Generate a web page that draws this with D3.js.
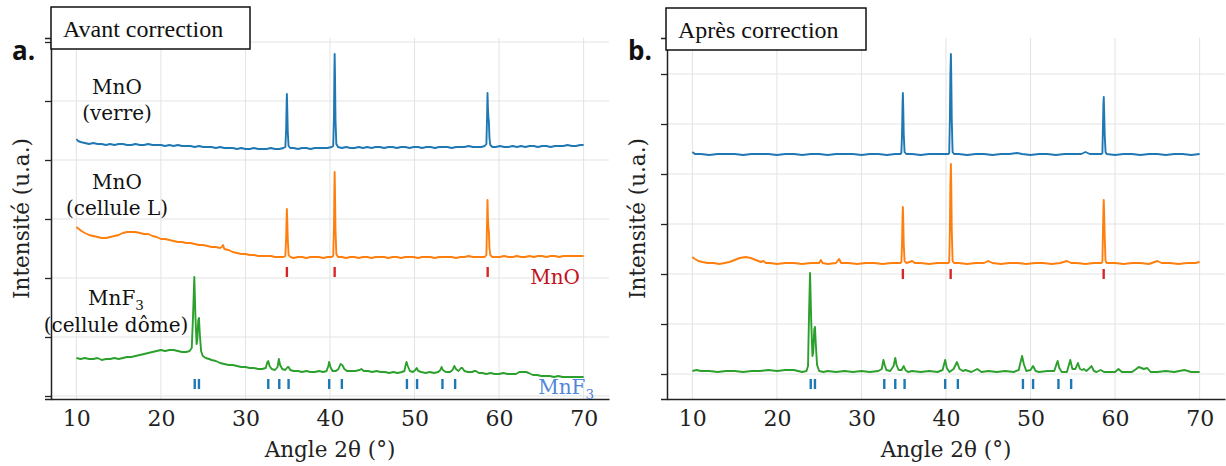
<!DOCTYPE html>
<html><head><meta charset="utf-8">
<script src="https://cdn.jsdelivr.net/npm/d3@7"></script>
<style>body{margin:0;background:#fff} svg{display:block}</style>
</head><body><svg id="c" width="1226" height="466"></svg>
<script>
// ---------------- DATA ----------------
const xTicks = [10, 20, 30, 40, 50, 60, 70];
const avantYTicks = [0, 59, 118, 177, 236, 295, 354];
const apresYTicks = [0, 50, 100, 150, 200, 250, 300];
const mnoRef = [34.9, 40.55, 58.65];
const mnf3Ref = [24.0, 24.5, 32.7, 34.0, 35.1, 39.9, 41.4, 49.1, 50.3, 53.3, 54.8];
const sampleNames = [["MnO", "(verre)"], ["MnO", "(cellule L)"], ["MnF", "(cellule dôme)"]];
const panelTitles = ["Avant correction", "Après correction"];
const panelLetters = ["a.", "b."];

const avantVerre = [
[10.0,257],[10.2,255],[10.5,254],[11.0,253],[11.5,252],[12.0,253],[12.5,252],[13.0,252],[13.5,251],[14.0,252],[14.5,251],[15.0,252],[15.5,252],[16.0,251],[16.5,251],[17.0,252],[17.5,251],[18.0,251],[18.5,252],[19.0,251],[19.5,251],[20.0,251],[20.5,250],[21.0,251],[21.5,250],[22.0,251],[22.5,250],[23.0,250],[23.5,250],[24.0,249],[24.5,250],[25.0,249],[25.5,249],[26.0,249],[26.5,248],[27.0,249],[27.5,248],[28.0,248],[28.5,248],[29.0,247],[29.5,248],[30.0,247],[30.5,247],[31.0,248],[31.5,247],[32.0,247],[32.5,247],[33.0,248],[33.5,247],[34.0,247],[34.5,248],
[34.72,249],[34.82,268],[34.87,292],[34.9,302],[34.94,290],[35.0,265],[35.1,250],[35.3,248],
[35.7,248],[36.2,247],[36.7,248],[37.2,248],[37.7,247],[38.2,248],[38.7,248],[39.2,248],[39.7,248],[40.2,249],
[40.38,250],[40.47,280],[40.52,325],[40.55,342],[40.59,322],[40.65,276],[40.75,252],[40.95,249],
[41.4,248],[41.9,249],[42.4,248],[42.9,248],[43.4,249],[43.9,248],[44.4,249],[44.9,248],[45.4,249],[45.9,249],[46.4,248],[46.9,249],[47.4,249],[47.9,248],[48.4,249],[48.9,249],[49.4,248],[49.9,249],[50.4,249],[50.9,248],[51.4,249],[51.9,249],[52.4,248],[52.9,249],[53.4,249],[53.9,249],[54.4,248],[54.9,249],[55.4,249],[55.9,249],[56.4,250],[56.9,249],[57.4,249],[57.9,249],[58.3,250],
[58.5,252],[58.58,280],[58.63,303],[58.68,288],[58.73,279],[58.79,275],[58.86,258],[58.96,251],[59.2,249],
[59.6,249],[60.1,250],[60.6,249],[61.1,249],[61.6,250],[62.1,249],[62.6,250],[63.1,249],[63.6,250],[64.1,250],[64.6,249],[65.1,250],[65.6,250],[66.1,249],[66.6,250],[67.1,250],[67.6,250],[68.1,251],[68.6,250],[69.1,250],[69.6,251],[70.0,251]];

const avantCelluleL = [
[10.0,169],[10.3,167],[10.6,165],[11.0,163],[11.5,161],[12.0,160],[12.5,159],[13.0,158],[13.5,158],[14.0,159],[14.5,160],[15.0,161],[15.5,163],[16.0,164],[16.5,164],[17.0,164],[17.5,163],[18.0,162],[18.5,162],[19.0,160],[19.5,159],[20.0,157],[20.5,157],[21.0,156],[21.5,155],[22.0,154],[22.5,154],[23.0,153],[23.5,153],[24.0,152],[24.5,151],[25.0,151],[25.5,150],[26.0,149],[26.5,149],[27.0,148],[27.2,149],[27.35,151],[27.5,147],[28.0,146],[28.5,144],[29.0,143],[29.5,142],[30.0,142],[30.5,141],[31.0,141],[31.5,140],[32.0,140],[32.5,140],[33.0,140],[33.5,139],[34.0,139],[34.5,139],
[34.72,140],[34.82,160],[34.87,178],[34.9,187],[34.94,177],[35.0,158],[35.1,141],[35.3,139],
[35.7,138],[36.2,139],[36.7,139],[37.2,138],[37.7,139],[38.2,139],[38.7,139],[39.2,138],[39.7,139],[40.2,139],
[40.38,140],[40.47,170],[40.52,208],[40.55,224],[40.59,205],[40.65,166],[40.75,142],[40.95,139],
[41.4,139],[41.9,138],[42.4,139],[42.9,139],[43.4,138],[43.9,139],[44.4,139],[44.9,138],[45.4,139],[45.9,139],[46.4,139],[46.9,138],[47.4,139],[47.9,139],[48.4,138],[48.9,139],[49.4,139],[49.9,139],[50.4,138],[50.9,139],[51.4,139],[51.9,139],[52.4,138],[52.9,139],[53.4,139],[53.9,139],[54.4,139],[54.9,138],[55.4,139],[55.9,139],[56.4,140],[56.9,139],[57.4,139],[57.9,139],[58.3,139],
[58.5,141],[58.58,175],[58.63,196],[58.68,178],[58.73,169],[58.79,165],[58.86,148],[58.96,141],[59.2,139],
[59.6,139],[60.1,139],[60.6,140],[61.1,139],[61.6,139],[62.1,140],[62.6,139],[63.1,139],[63.6,140],[64.1,139],[64.6,140],[65.1,140],[65.6,139],[66.1,140],[66.6,140],[67.1,139],[67.6,140],[68.1,140],[68.6,140],[69.1,140],[69.6,140],[70.0,140]];

const avantDome = [
[10.0,38],[10.5,37],[11.0,38],[11.5,37],[12.0,37],[12.5,38],[13.0,36],[13.5,37],[14.0,37],[14.5,38],[15.0,37],[15.5,38],[16.0,39],[16.5,39],[17.0,40],[17.5,41],[18.0,42],[18.5,43],[19.0,44],[19.5,45],[20.0,46],[20.5,45],[21.0,46],[21.5,46],[22.0,45],[22.5,44],[23.0,44],[23.4,45],[23.65,48],[23.8,80],[23.95,119],[24.08,80],[24.22,52],[24.3,56],[24.42,76],[24.5,78],[24.6,62],[24.75,45],[24.95,40],[25.3,38],[25.7,37],[26.0,36],[26.5,35],[27.0,33],[27.5,32],[28.0,31],[28.5,31],[29.0,30],[29.5,29],[30.0,29],[30.5,28],[31.0,28],[31.5,27],[32.0,27],[32.4,28],[32.6,34],[32.7,35],[32.85,30],[33.1,27],[33.5,26],[33.8,29],[33.95,37],[34.1,31],[34.35,27],[34.7,26],[35.0,29],[35.1,29],[35.3,26],[35.7,25],[36.2,25],[36.7,24],[37.2,25],[37.7,24],[38.2,24],[38.7,25],[39.2,24],[39.6,25],[39.8,30],[39.9,34],[40.05,29],[40.3,25],[40.7,25],[41.0,27],[41.25,32],[41.45,31],[41.7,27],[42.0,25],[42.5,25],[43.0,25],[43.5,26],[43.7,27],[44.0,25],[44.5,25],[45.0,24],[45.5,25],[46.0,24],[46.5,24],[47.0,23],[47.5,24],[48.0,23],[48.5,24],[48.8,25],[48.95,31],[49.05,34],[49.2,30],[49.45,25],[49.8,24],[50.1,26],[50.25,28],[50.45,25],[50.8,24],[51.3,23],[51.8,24],[52.3,23],[52.8,24],[53.05,26],[53.2,29],[53.35,26],[53.7,24],[54.2,24],[54.5,26],[54.7,30],[54.9,27],[55.2,25],[55.5,28],[55.65,28],[55.9,25],[56.3,24],[56.8,24],[57.1,25],[57.25,25],[57.6,23],[58.0,23],[58.5,22],[59.0,23],[59.5,22],[60.0,22],[60.5,23],[61.0,22],[61.5,22],[62.0,22],[62.4,24],[62.8,24],[63.2,24],[63.5,23],[64.0,21],[64.5,21],[65.0,20],[65.5,20],[66.0,20],[66.5,19],[67.0,20],[67.5,19],[68.0,19],[68.5,19],[69.0,19],[69.5,19],[70.0,19]];

const apresVerre = [
[10.0,222],[10.3,220],[11,220],[12,219],[13,220],[14,220],[15,220],[16,219],[17,220],[18,220],[19,220],[20,219],[21,220],[22,220],[23,219],[24,220],[25,220],[26,219],[27,220],[28,220],[29,220],[30,219],[31,220],[32,220],[33,219],[34,220],[34.6,220],
[34.72,221],[34.8,240],[34.86,270],[34.9,281],[34.94,268],[35.0,240],[35.1,222],[35.3,220],
[36,220],[37,219],[38,220],[39,220],[40,220],[40.3,220],
[40.38,221],[40.46,255],[40.52,300],[40.58,320],[40.62,300],[40.68,255],[40.78,222],[40.95,220],
[41.5,220],[42.5,219],[43.5,220],[44.5,220],[45.5,219],[46.5,220],[47.5,220],[48.4,221],[49,220],[50,219],[51,220],[52,220],[53,219],[54,220],[55,220],[56,220],[56.5,222],[57,220],[58,220],[58.4,220],
[58.5,221],[58.56,245],[58.62,270],[58.66,277],[58.7,265],[58.77,240],[58.87,222],[59.0,220],
[60,219],[61,220],[62,220],[63,219],[64,220],[65,220],[66,219],[67,220],[68,220],[69,219],[70,220]];

const apresCelluleL = [
[10.0,117],[10.3,115],[10.7,113],[11.2,112],[11.8,111],[12.5,111],[13.2,110],[13.8,111],[14.4,112],[15.0,114],[15.6,116],[16.3,117],[16.9,116],[17.5,114],[18.1,112],[18.4,113],[18.7,111],[19.2,111],[20,110],[21,111],[22,111],[23,110],[24,111],[25.0,111],[25.2,114],[25.4,111],[26,110],[27.0,111],[27.35,115],[27.6,111],[28.5,111],[29.5,110],[30.5,111],[31.5,111],[32.5,110],[33.5,111],[34.6,111],
[34.72,112],[34.8,130],[34.86,158],[34.9,167],[34.94,156],[35.0,130],[35.1,113],[35.3,111],
[35.7,112],[36.0,113],[36.3,111],[37,111],[38,110],[39,111],[40,111],[40.3,111],
[40.38,112],[40.46,145],[40.52,190],[40.58,210],[40.62,190],[40.68,145],[40.78,113],[40.95,111],
[41.5,111],[42.5,110],[43.5,111],[44.5,111],[45,113],[45.5,111],[46.5,110],[47.5,111],[48.5,111],[49.5,110],[50.5,111],[51.5,111],[52.5,110],[53.5,111],[54.3,113],[54.8,111],[55.5,111],[56.5,110],[57.5,111],[58.4,111],
[58.5,112],[58.56,140],[58.62,165],[58.66,174],[58.7,162],[58.77,138],[58.87,113],[59.0,111],
[60,111],[61,110],[62,111],[63,111],[64,110],[65,113],[65.5,111],[66.5,111],[67.5,110],[68.5,111],[69.5,111],[70,112]];

const apresDome = [
[10.0,3],[10.5,4],[11,3],[12,3],[13,2],[14,3],[15,3],[16,2],[17,3],[18,3],[19,4],[20,3],[21,4],[22,4],[22.5,3],[23,2],[23.5,3],[23.68,8],[23.8,60],[23.92,101],[24.05,55],[24.2,18],[24.3,22],[24.42,45],[24.5,47],[24.6,30],[24.75,9],[25,3],[25.5,2],[26,3],[27,2],[28,3],[29,2],[30,3],[31,2],[32,3],[32.4,5],[32.6,14],[32.75,9],[32.95,4],[33.4,3],[33.8,8],[34.0,16],[34.15,9],[34.4,4],[34.75,4],[35.0,8],[35.2,4],[35.5,2],[36,3],[37,2],[38,3],[39,2],[39.6,4],[39.9,14],[40.1,6],[40.4,2],[40.9,5],[41.3,12],[41.6,5],[42.0,3],[42.3,4],[43,2],[43.7,5],[44.2,2],[45,3],[46,2],[47,3],[48,2],[48.6,4],[48.85,13],[49.0,18],[49.2,10],[49.5,3],[50.0,4],[50.3,8],[50.6,3],[51,2],[52,3],[52.8,3],[53.0,8],[53.2,13],[53.4,6],[53.7,2],[54.3,2],[54.5,8],[54.7,14],[54.95,5],[55.3,5],[55.6,11],[55.85,5],[56.1,4],[56.3,5],[56.6,3],[57.0,6],[57.2,8],[57.5,3],[57.8,2],[58.3,4],[58.7,2],[59.5,2],[60.0,2],[60.4,5],[60.8,2],[61.5,2],[62.0,2],[62.5,5],[62.8,7],[63.1,6],[63.4,5],[63.8,6],[64.2,2],[65,2],[66,3],[67,2],[68.2,4],[69,2],[70,2]];

// ---------------- STYLE / LAYOUT ----------------
const colors = ["#1f77b4", "#ff7f0e", "#2ca02c"];
const refColors = {mno: "#d62728", mnf3: "#1f77b4"};
const serif = "'DejaVu Serif', serif";
const titleFont = "'Liberation Serif', serif";
const plotTop = 38, plotBottom = 399;

const panels = [
  {x0: 51, x1: 609, yDomain: [-3, 358], yTicks: avantYTicks, series: [avantVerre, avantCelluleL, avantDome],
   mnoBar: [119, 129], mnf3Bar: [7, 17], box: [51, 7, 199, 42], letterX: 12, ylabX: 29, labels: true},
  {x0: 667, x1: 1225, yDomain: [-25, 336], yTicks: apresYTicks, series: [apresVerre, apresCelluleL, apresDome],
   mnoBar: [95, 105], mnf3Bar: [-15, -5], box: [666, 8, 200, 42], letterX: 628, ylabX: 645, labels: false}
];

const svg = d3.select('#c');

panels.forEach((p, i) => {
  const x = d3.scaleLinear().domain([7, 73]).range([p.x0, p.x1]);
  const y = d3.scaleLinear().domain(p.yDomain).range([plotBottom, plotTop]);
  const g = svg.append('g');

  // grid
  g.selectAll('.vg').data(xTicks).join('line')
    .attr('x1', d => x(d)).attr('x2', d => x(d)).attr('y1', plotTop).attr('y2', plotBottom)
    .attr('stroke', '#e3e3e3').attr('stroke-width', 1);
  g.selectAll('.hg').data(p.yTicks).join('line')
    .attr('x1', p.x0).attr('x2', p.x1).attr('y1', d => y(d)).attr('y2', d => y(d))
    .attr('stroke', '#e3e3e3').attr('stroke-width', 1);

  // x axis
  const xa = g.append('g').attr('transform', `translate(0,${plotBottom})`)
    .call(d3.axisBottom(x).tickValues(xTicks).tickSize(0).tickPadding(11).tickFormat(d3.format('d')));
  xa.select('.domain').attr('stroke', '#222').attr('stroke-width', 1.5);
  xa.selectAll('text').attr('font-family', serif).attr('font-size', 22).attr('fill', '#222');

  // y axis
  const ya = g.append('g').attr('transform', `translate(${p.x0},0)`)
    .call(d3.axisLeft(y).tickValues(p.yTicks).tickSize(6).tickFormat(''));
  ya.select('.domain').attr('stroke', '#222').attr('stroke-width', 1.5);
  ya.selectAll('.tick line').attr('stroke', '#222').attr('stroke-width', 1.3);

  // series
  const line = d3.line().x(d => x(d[0])).y(d => y(d[1]));
  p.series.forEach((s, k) => {
    g.append('path').datum(s).attr('d', line).attr('fill', 'none')
      .attr('stroke', colors[k]).attr('stroke-width', 1.9).attr('stroke-linejoin', 'round');
  });

  // reference bars
  g.selectAll('.mno').data(mnoRef).join('line')
    .attr('x1', d => x(d)).attr('x2', d => x(d)).attr('y1', y(p.mnoBar[0])).attr('y2', y(p.mnoBar[1]))
    .attr('stroke', refColors.mno).attr('stroke-width', 2.4);
  g.selectAll('.mnf').data(mnf3Ref).join('line')
    .attr('x1', d => x(d)).attr('x2', d => x(d)).attr('y1', y(p.mnf3Bar[0])).attr('y2', y(p.mnf3Bar[1]))
    .attr('stroke', refColors.mnf3).attr('stroke-width', 2.4);

  // axis labels
  g.append('text').attr('x', (p.x0 + p.x1) / 2).attr('y', 457).attr('text-anchor', 'middle')
    .attr('font-family', serif).attr('font-size', 21.5).attr('fill', '#222').text('Angle 2θ (°)');
  g.append('text').attr('transform', `translate(${p.ylabX},${(plotTop + plotBottom) / 2}) rotate(-90)`)
    .attr('text-anchor', 'middle').attr('font-family', serif).attr('font-size', 21.5).attr('fill', '#222')
    .text('Intensité (u.a.)');

  // sample labels
  if (p.labels) {
    const lp = [[117, 94, 120], [117, 189, 215], [116, 305, 332]];
    sampleNames.forEach((nm, k) => {
      const t = g.append('text').attr('x', lp[k][0]).attr('y', lp[k][1]).attr('text-anchor', 'middle')
        .attr('font-family', serif).attr('font-size', 20).attr('fill', '#111');
      t.append('tspan').text(nm[0]);
      if (k === 2) t.append('tspan').attr('font-size', 13.5).attr('dy', 5).text('3');
      g.append('text').attr('x', lp[k][0]).attr('y', lp[k][2]).attr('text-anchor', 'middle')
        .attr('font-family', serif).attr('font-size', 20).attr('fill', '#111').text(nm[1]);
    });
    g.append('text').attr('x', 580).attr('y', 284).attr('text-anchor', 'end')
      .attr('font-family', serif).attr('font-size', 20).attr('fill', '#c1121c').text('MnO');
    const t3 = g.append('text').attr('x', 594).attr('y', 394).attr('text-anchor', 'end')
      .attr('font-family', serif).attr('font-size', 20).attr('fill', '#4f86d9');
    t3.append('tspan').text('MnF');
    t3.append('tspan').attr('font-size', 13.5).attr('dy', 5).text('3');
  }

  // title box
  const b = p.box;
  svg.append('rect').attr('x', b[0]).attr('y', b[1]).attr('width', b[2]).attr('height', b[3])
    .attr('fill', '#fff').attr('stroke', '#111').attr('stroke-width', 1.5);
  svg.append('text').attr('x', b[0] + 12).attr('y', b[1] + 30).attr('font-family', titleFont)
    .attr('font-size', 24).attr('fill', '#111').text(panelTitles[i]);
  svg.append('text').attr('x', p.letterX).attr('y', 60).attr('font-family', "'Open Sans', sans-serif")
    .attr('font-weight', 700).attr('font-size', 26).attr('fill', '#111').text(panelLetters[i]);
});
</script></body></html>
